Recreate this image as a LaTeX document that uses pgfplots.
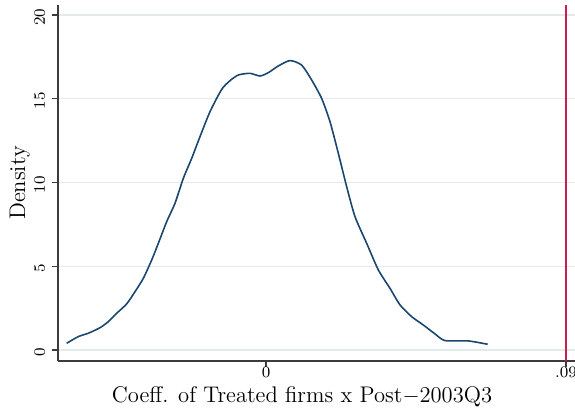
\documentclass[border=0pt]{standalone}
\usepackage{pgfplots}
\pgfplotsset{compat=1.18}

\definecolor{curveblue}{RGB}{26,71,111}
\definecolor{refred}{RGB}{204,28,78}
\definecolor{gridgray}{RGB}{226,234,234}
\definecolor{spine}{RGB}{60,60,60}

\begin{document}
\begin{tikzpicture}
\begin{axis}[
  scale only axis,
  width=258.5pt, height=178pt,
  xmin=-0.0624, xmax=0.0927,
  ymin=-0.657, ymax=20.6,
  axis lines*=left,
  axis line style={spine, line width=0.6pt},
  ymajorgrids,
  grid style={gridgray, line width=0.6pt},
  tick align=outside,
  major tick length=3pt,
  tick style={spine, line width=0.6pt},
  scaled x ticks=false,
  xtick={0,0.09},
  xticklabels={0,.09},
  ytick={0,5,10,15,20},
  tick label style={font=\footnotesize},
  yticklabel style={rotate=90, anchor=south, xshift=-1pt},
  xticklabel style={yshift=1.2pt, inner sep=1pt},
  xlabel={Coeff. of Treated firms x Post$-$2003Q3},
  ylabel={Density},
  label style={font=\fontsize{11.3}{13}\selectfont},
  xlabel style={at={(axis description cs:0.472,-0.118)}, anchor=base, inner sep=1pt},
  ylabel style={at={(axis description cs:-0.0638,0.5)}, anchor=base},
  clip=false,
]
% estimated kernel density of the coefficient
\addplot[curveblue, line width=0.8pt, smooth, tension=0.4] coordinates {
  (-0.0598,0.40) (-0.0563,0.80) (-0.0533,1.00) (-0.0498,1.33)
  (-0.0473,1.69) (-0.0448,2.19) (-0.0418,2.75) (-0.0393,3.48)
  (-0.0368,4.28) (-0.0343,5.37) (-0.0323,6.37) (-0.0298,7.66)
  (-0.0273,8.76) (-0.0248,10.25) (-0.0223,11.44) (-0.0198,12.74)
  (-0.0168,14.23) (-0.0133,15.56) (-0.0108,16.08) (-0.0083,16.42)
  (-0.0048,16.52) (-0.0018,16.36) (0.0007,16.56) (0.0037,16.96)
  (0.0072,17.28) (0.0107,17.01) (0.0137,16.12) (0.0167,15.02)
  (0.0192,13.63) (0.0217,11.74) (0.0242,9.75) (0.0267,7.96)
  (0.0302,6.37) (0.0337,4.78) (0.0372,3.68) (0.0402,2.69)
  (0.0437,1.99) (0.0472,1.49) (0.0507,0.96) (0.0537,0.56)
  (0.0607,0.54) (0.0665,0.34)
};
% reference value of the coefficient
\addplot[refred, line width=1.2pt] coordinates {(0.09,-0.657) (0.09,20.6)};
\end{axis}
\pgfresetboundingbox
\path (-29pt,-24.5pt) rectangle (258.5pt,180.5pt);
\end{tikzpicture}
\end{document}
